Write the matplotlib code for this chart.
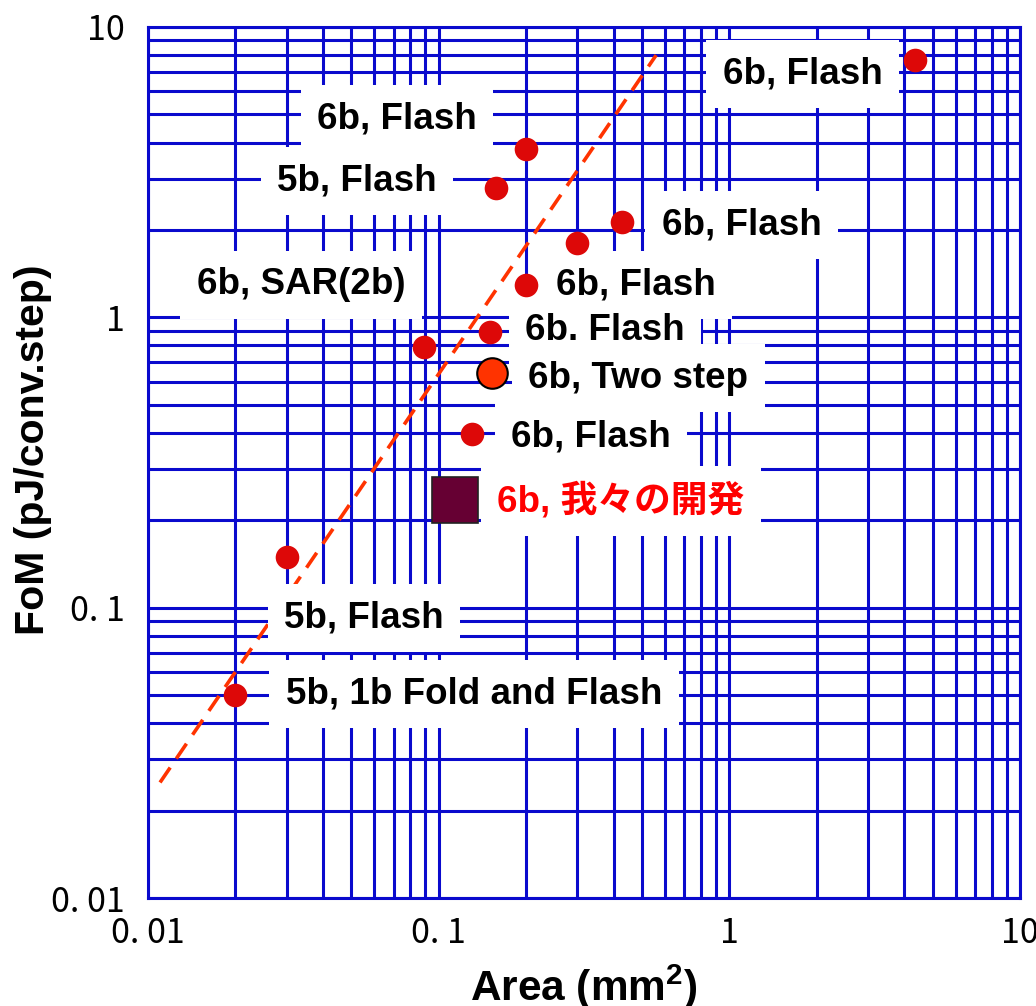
import matplotlib
matplotlib.use("Agg")
import matplotlib.pyplot as plt

plt.rcParams['mathtext.fontset'] = 'custom'
plt.rcParams['mathtext.rm'] = 'Liberation Sans'
plt.rcParams['mathtext.bf'] = 'Liberation Sans:bold'

# ---- data ----
flash_area = [4.35, 0.20, 0.157, 0.428, 0.30, 0.20, 0.150, 0.089, 0.130, 0.030, 0.020]
flash_fom = [7.7, 3.8, 2.8, 2.13, 1.80, 1.29, 0.89, 0.79, 0.396, 0.149, 0.050]
twostep_area = [0.153]
twostep_fom = [0.643]
ours_area = [0.114]
ours_fom = [0.235]
fit_area = [0.011, 0.56]
fit_fom = [0.025, 8.0]

labels = ["6b, Flash", "6b, Flash", "5b, Flash", "6b, Flash", "6b, SAR(2b)",
          "6b, Flash", "6b. Flash", "6b, Two step", "6b, Flash", "6b, 我々の開発",
          "5b, Flash", "5b, 1b Fold and Flash"]
label_colors = ["black"] * 9 + ["#FF0000"] + ["black"] * 2
# label centers in axes fraction
label_pos = [(0.751, 0.946), (0.2856, 0.894), (0.2397, 0.823), (0.681, 0.7727),
             (0.1755, 0.7038), (0.5596, 0.7038), (0.524, 0.651), (0.562, 0.597),
             (0.508, 0.529), (0.5424, 0.456), (0.2477, 0.3215), (0.374, 0.234)]

xticks = [0.01, 0.1, 1, 10]
xticklabels = ["0. 01", "0. 1", "1", "10"]
yticks = [0.01, 0.1, 1, 10]
yticklabels = ["0. 01", "0. 1", "1", "10"]

blue = "#0A0ACD"

fig = plt.figure(figsize=(10.36, 10.06), dpi=100)
ax = fig.add_axes([148 / 1036, (1006 - 898) / 1006, 872 / 1036, 871 / 1006])
ax.set_xscale("log")
ax.set_yscale("log")
ax.set_xlim(0.01, 10)
ax.set_ylim(0.01, 10)
ax.set_axisbelow(True)
ax.grid(True, which="both", color=blue, linewidth=2.2)
for s in ax.spines.values():
    s.set_color(blue)
    s.set_linewidth(2.2)

ax.set_xticks(xticks)
ax.set_xticklabels(xticklabels)
ax.set_yticks(yticks)
ax.set_yticklabels(yticklabels)
ax.tick_params(which="both", length=0, labelsize=24.5)
ax.tick_params(axis="x", pad=13)
ax.tick_params(axis="y", pad=17)
for t in ax.get_xticklabels() + ax.get_yticklabels():
    t.set_fontfamily("Noto Sans CJK JP")

ax.plot(fit_area, fit_fom, linestyle=(0, (5, 3)), color="#FF3300", linewidth=2.6, zorder=2)

# white boxes first, then the texts on top of all boxes
for (fx, fy), txt in zip(label_pos, labels):
    ax.text(fx, fy, txt, transform=ax.transAxes, ha="center", va="center",
            fontsize=26.5, fontweight="bold", color="white",
            family=["Liberation Sans", "Noto Sans CJK JP"],
            bbox=dict(boxstyle="square,pad=0.45", facecolor="white", edgecolor="none"),
            zorder=3)
for (fx, fy), txt, c in zip(label_pos, labels, label_colors):
    ax.text(fx, fy, txt, transform=ax.transAxes, ha="center", va="center",
            fontsize=26.5, fontweight="bold", color=c,
            family=["Liberation Sans", "Noto Sans CJK JP"], zorder=3.5)

ax.plot(flash_area, flash_fom, linestyle="none", marker="o", markersize=17,
        color="#DD0808", markeredgewidth=0, zorder=5)
ax.plot(twostep_area, twostep_fom, linestyle="none", marker="o", markersize=22,
        markerfacecolor="#FF3300", markeredgecolor="black", markeredgewidth=1.5, zorder=5)
ax.plot(ours_area, ours_fom, linestyle="none", marker="s", markersize=33,
        markerfacecolor="#660033", markeredgecolor="#222222", markeredgewidth=1.2, zorder=5)

ax.set_xlabel("Area (mm$^{\\mathbf{2}}$)", fontsize=30.5, fontweight="bold",
              family="Liberation Sans", labelpad=8)
fig.text(33 / 1036, 1 - 450 / 1006, "FoM (pJ/conv.step)", rotation=90,
         ha="center", va="center", fontsize=29.5, fontweight="bold",
         family="Liberation Sans")

fig.savefig("out.png", dpi=100)
